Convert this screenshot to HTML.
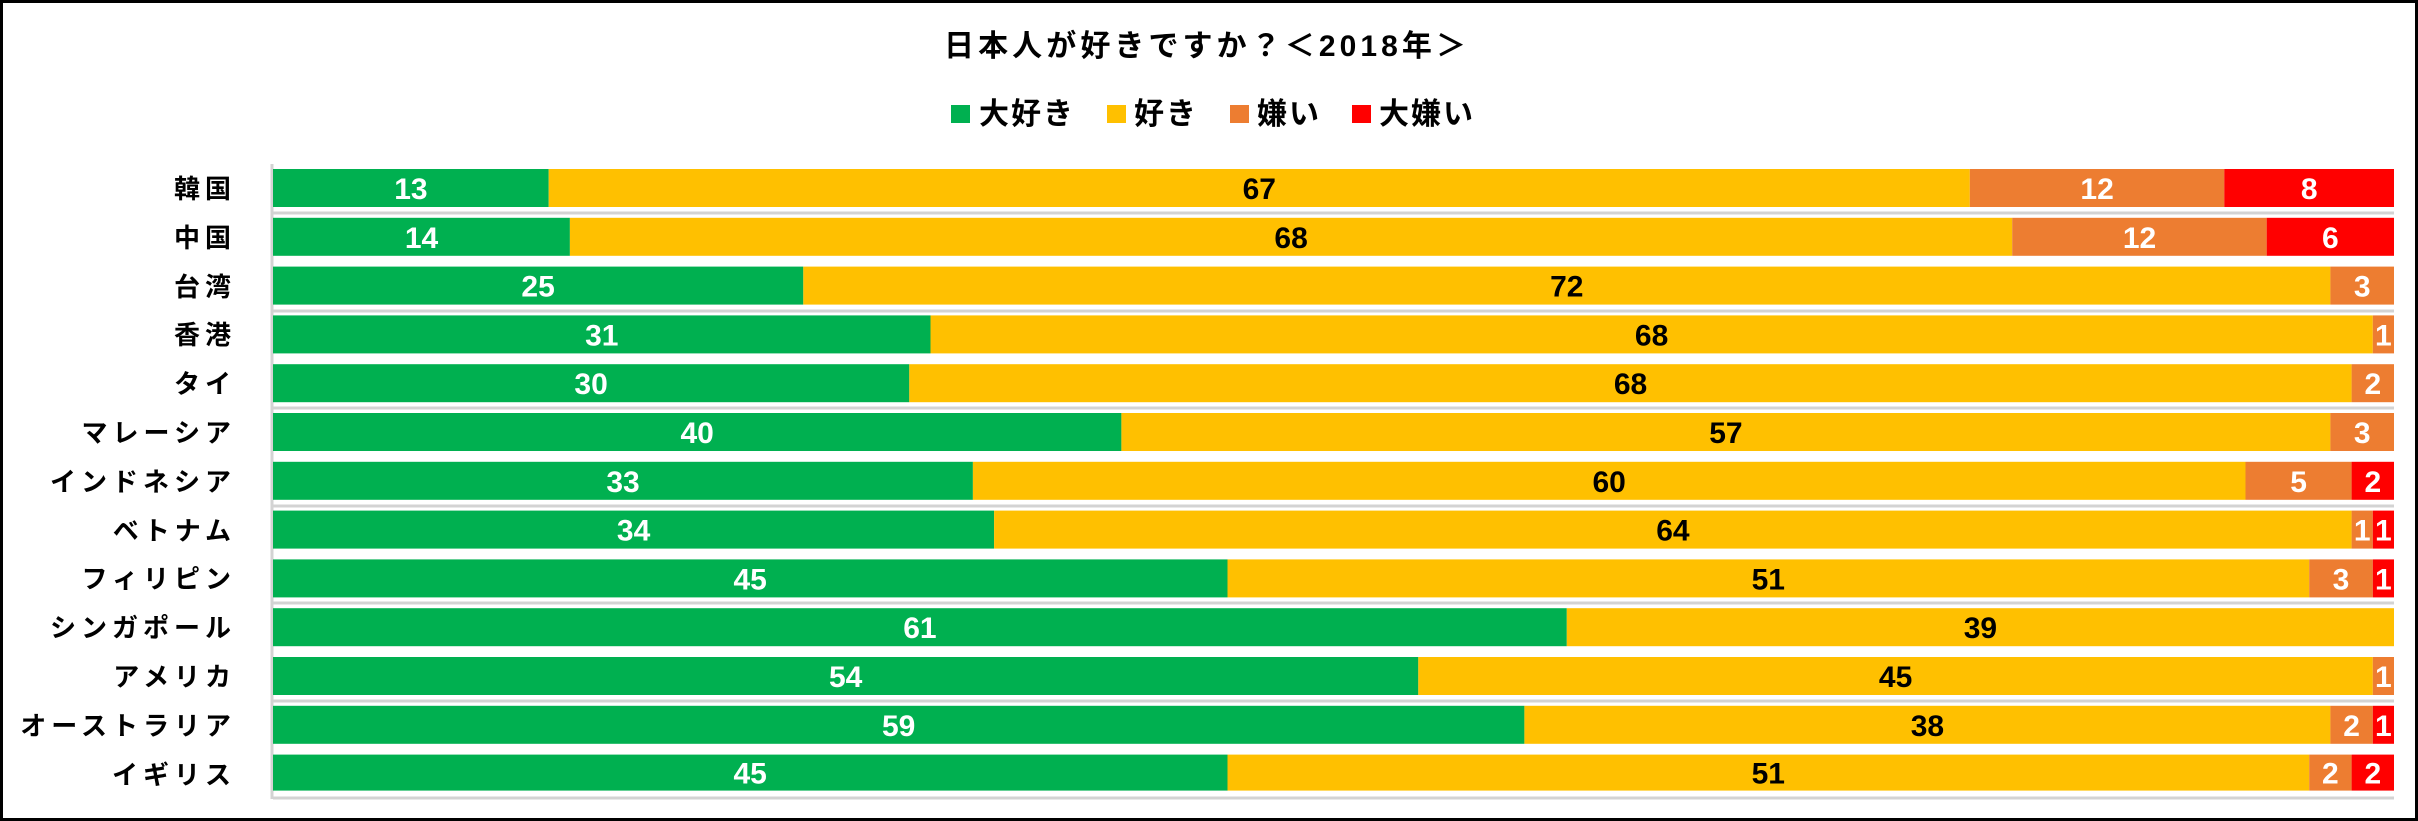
<!DOCTYPE html>
<html><head><meta charset="utf-8"><style>
html,body{margin:0;padding:0;background:#fff}
svg{display:block}
.c{font-family:"Liberation Sans","Noto Sans CJK JP",sans-serif;font-size:26px;font-weight:bold;fill:#000;letter-spacing:5px;text-anchor:end}
.n{font-family:"Liberation Sans",sans-serif;font-weight:bold;font-size:30px;text-anchor:middle}
.w{fill:#fff}.b{fill:#000}
</style></head><body>
<svg width="2418" height="821" viewBox="0 0 2418 821" xmlns="http://www.w3.org/2000/svg">
<rect x="1.5" y="1.5" width="2415" height="818" fill="#fff" stroke="#000" stroke-width="3"/>
<text x="944" y="56" font-family="Liberation Sans,Noto Sans CJK JP,sans-serif" font-size="30" font-weight="bold" letter-spacing="4" textLength="526" lengthAdjust="spacing">日本人が好きですか？＜2018年＞</text>
<g font-family="Liberation Sans,Noto Sans CJK JP,sans-serif" font-size="30" font-weight="bold" letter-spacing="2">
<rect x="951" y="105" width="19" height="18" fill="#00B050"/><text x="979" y="124">大好き</text>
<rect x="1107" y="105" width="19" height="18" fill="#FFC000"/><text x="1134" y="124">好き</text>
<rect x="1230" y="105" width="19" height="18" fill="#ED7D31"/><text x="1257" y="124">嫌い</text>
<rect x="1352" y="105" width="19" height="18" fill="#FF0000"/><text x="1379" y="124">大嫌い</text>
</g>
<g stroke="#d3d3d3" stroke-width="3">
<line x1="273" x2="2394" y1="213" y2="213"/><line x1="273" x2="2394" y1="311" y2="311"/>
<line x1="273" x2="2394" y1="408" y2="408"/><line x1="273" x2="2394" y1="506" y2="506"/>
<line x1="273" x2="2394" y1="603" y2="603"/><line x1="273" x2="2394" y1="701" y2="701"/>
<line x1="273" x2="2394" y1="798" y2="798"/><line x1="272" x2="272" y1="164" y2="799"/>
</g>
<g class="lab">
<text class="c" x="236" y="198">韓国</text>
<text class="c" x="236" y="247">中国</text>
<text class="c" x="236" y="296">台湾</text>
<text class="c" x="236" y="344">香港</text>
<text class="c" x="236" y="393">タイ</text>
<text class="c" x="236" y="442">マレーシア</text>
<text class="c" x="236" y="491">インドネシア</text>
<text class="c" x="236" y="540">ベトナム</text>
<text class="c" x="236" y="588">フィリピン</text>
<text class="c" x="236" y="637">シンガポール</text>
<text class="c" x="236" y="686">アメリカ</text>
<text class="c" x="236" y="735">オーストラリア</text>
<text class="c" x="236" y="784">イギリス</text>
</g>
<g transform="translate(0,169)">
<rect x="273" width="275.7" height="38" fill="#00B050"/><rect x="548.7" width="1421.1" height="38" fill="#FFC000"/><rect x="1969.8" width="254.5" height="38" fill="#ED7D31"/><rect x="2224.3" width="169.7" height="38" fill="#FF0000"/>
<text class="n w" x="410.9" y="30">13</text><text class="n b" x="1259.3" y="30">67</text><text class="n w" x="2097.1" y="30">12</text><text class="n w" x="2309.2" y="30">8</text></g>
<g transform="translate(0,217.8)">
<rect x="273" width="296.9" height="38" fill="#00B050"/><rect x="569.9" width="1442.3" height="38" fill="#FFC000"/><rect x="2012.2" width="254.5" height="38" fill="#ED7D31"/><rect x="2266.7" width="127.3" height="38" fill="#FF0000"/>
<text class="n w" x="421.5" y="30">14</text><text class="n b" x="1291.1" y="30">68</text><text class="n w" x="2139.5" y="30">12</text><text class="n w" x="2330.4" y="30">6</text></g>
<g transform="translate(0,266.6)">
<rect x="273" width="530.3" height="38" fill="#00B050"/><rect x="803.3" width="1527.1" height="38" fill="#FFC000"/><rect x="2330.4" width="63.6" height="38" fill="#ED7D31"/>
<text class="n w" x="538.1" y="30">25</text><text class="n b" x="1566.8" y="30">72</text><text class="n w" x="2362.2" y="30">3</text></g>
<g transform="translate(0,315.4)">
<rect x="273" width="657.5" height="38" fill="#00B050"/><rect x="930.5" width="1442.3" height="38" fill="#FFC000"/><rect x="2372.8" width="21.2" height="38" fill="#ED7D31"/>
<text class="n w" x="601.8" y="30">31</text><text class="n b" x="1651.6" y="30">68</text><text class="n w" x="2383.4" y="30">1</text></g>
<g transform="translate(0,364.2)">
<rect x="273" width="636.3" height="38" fill="#00B050"/><rect x="909.3" width="1442.3" height="38" fill="#FFC000"/><rect x="2351.6" width="42.4" height="38" fill="#ED7D31"/>
<text class="n w" x="591.1" y="30">30</text><text class="n b" x="1630.5" y="30">68</text><text class="n w" x="2372.8" y="30">2</text></g>
<g transform="translate(0,413)">
<rect x="273" width="848.4" height="38" fill="#00B050"/><rect x="1121.4" width="1209" height="38" fill="#FFC000"/><rect x="2330.4" width="63.6" height="38" fill="#ED7D31"/>
<text class="n w" x="697.2" y="30">40</text><text class="n b" x="1725.9" y="30">57</text><text class="n w" x="2362.2" y="30">3</text></g>
<g transform="translate(0,461.8)">
<rect x="273" width="699.9" height="38" fill="#00B050"/><rect x="972.9" width="1272.6" height="38" fill="#FFC000"/><rect x="2245.5" width="106.1" height="38" fill="#ED7D31"/><rect x="2351.6" width="42.4" height="38" fill="#FF0000"/>
<text class="n w" x="623" y="30">33</text><text class="n b" x="1609.2" y="30">60</text><text class="n w" x="2298.6" y="30">5</text><text class="n w" x="2372.8" y="30">2</text></g>
<g transform="translate(0,510.6)">
<rect x="273" width="721.1" height="38" fill="#00B050"/><rect x="994.1" width="1357.5" height="38" fill="#FFC000"/><rect x="2351.6" width="21.2" height="38" fill="#ED7D31"/><rect x="2372.8" width="21.2" height="38" fill="#FF0000"/>
<text class="n w" x="633.6" y="30">34</text><text class="n b" x="1672.9" y="30">64</text><text class="n w" x="2362.2" y="30">1</text><text class="n w" x="2383.4" y="30">1</text></g>
<g transform="translate(0,559.4)">
<rect x="273" width="954.5" height="38" fill="#00B050"/><rect x="1227.5" width="1081.7" height="38" fill="#FFC000"/><rect x="2309.2" width="63.6" height="38" fill="#ED7D31"/><rect x="2372.8" width="21.2" height="38" fill="#FF0000"/>
<text class="n w" x="750.2" y="30">45</text><text class="n b" x="1768.3" y="30">51</text><text class="n w" x="2341" y="30">3</text><text class="n w" x="2383.4" y="30">1</text></g>
<g transform="translate(0,608.2)">
<rect x="273" width="1293.8" height="38" fill="#00B050"/><rect x="1566.8" width="827.2" height="38" fill="#FFC000"/>
<text class="n w" x="919.9" y="30">61</text><text class="n b" x="1980.4" y="30">39</text></g>
<g transform="translate(0,657)">
<rect x="273" width="1145.3" height="38" fill="#00B050"/><rect x="1418.3" width="954.5" height="38" fill="#FFC000"/><rect x="2372.8" width="21.2" height="38" fill="#ED7D31"/>
<text class="n w" x="845.7" y="30">54</text><text class="n b" x="1895.6" y="30">45</text><text class="n w" x="2383.4" y="30">1</text></g>
<g transform="translate(0,705.8)">
<rect x="273" width="1251.4" height="38" fill="#00B050"/><rect x="1524.4" width="806" height="38" fill="#FFC000"/><rect x="2330.4" width="42.4" height="38" fill="#ED7D31"/><rect x="2372.8" width="21.2" height="38" fill="#FF0000"/>
<text class="n w" x="898.7" y="30">59</text><text class="n b" x="1927.4" y="30">38</text><text class="n w" x="2351.6" y="30">2</text><text class="n w" x="2383.4" y="30">1</text></g>
<g transform="translate(0,754.6)">
<rect x="273" width="954.5" height="36" fill="#00B050"/><rect x="1227.5" width="1081.7" height="36" fill="#FFC000"/><rect x="2309.2" width="42.4" height="36" fill="#ED7D31"/><rect x="2351.6" width="42.4" height="36" fill="#FF0000"/>
<text class="n w" x="750.2" y="29">45</text><text class="n b" x="1768.3" y="29">51</text><text class="n w" x="2330.4" y="29">2</text><text class="n w" x="2372.8" y="29">2</text></g>
</svg>
</body></html>
